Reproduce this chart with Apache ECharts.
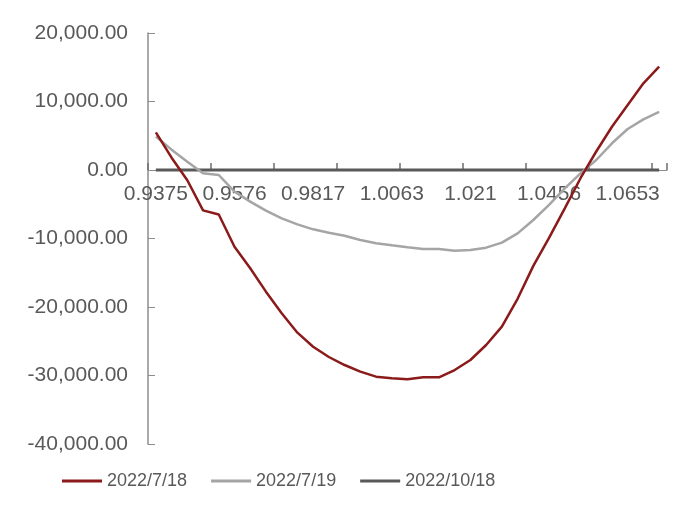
<!DOCTYPE html>
<html>
<head>
<meta charset="utf-8">
<script src="https://cdn.jsdelivr.net/npm/echarts@6/dist/echarts.min.js"></script>
<style>
  html, body { margin: 0; padding: 0; background: #fff; }
  #chart { width: 689px; height: 508px; }
</style>
</head>
<body>
<div id="chart"></div>
<script>
// 横轴分类（只显示每 5 个中的一个）
const categories = [
  '0.9375', '0.9415', '0.9455', '0.9496', '0.9536',
  '0.9576', '0.9624', '0.9672', '0.9721', '0.9769',
  '0.9817', '0.9866', '0.9915', '0.9965', '1.0014',
  '1.0063', '1.0092', '1.0122', '1.0151', '1.0181',
  '1.021', '1.0259', '1.0308', '1.0358', '1.0407',
  '1.0456', '1.0495', '1.0535', '1.0574', '1.0614',
  '1.0653', '1.0692', '1.0732'
]
const seriesNames = ['2022/7/18', '2022/7/19', '2022/10/18']
const values0718 = [
  5500, 1800, -1500, -5900, -6500,
  -11200, -14350, -17760, -20900, -23750,
  -25800, -27300, -28470, -29440, -30170,
  -30410, -30560, -30270, -30270, -29200,
  -27740, -25550, -22870, -18800, -14000,
  -9900, -5600, -1200, 2700, 6320,
  9490, 12650, 15100
]
const values0719 = [
  4900, 2970, 1210, -490, -730,
  -3160, -4620, -5940, -7060, -7930,
  -8660, -9150, -9590, -10220, -10700,
  -11000, -11290, -11530, -11530, -11780,
  -11680, -11340, -10610, -9250, -7300,
  -5100, -2680, -490, 1460, 3900,
  5990, 7400, 8500
]
const values1018 = [
  0, 0, 0, 0, 0, 0, 0, 0, 0, 0, 0,
  0, 0, 0, 0, 0, 0, 0, 0, 0, 0, 0,
  0, 0, 0, 0, 0, 0, 0, 0, 0, 0, 0
]
const yTicks = { min: -40000, max: 20000, interval: 10000 }
const myColor = ['#8B1A1A', '#A5A5A5', '#595959']

const chart = echarts.init(document.getElementById('chart'))
const textFont = 'Liberation Sans'

const option = {
  animation: false,
  color: myColor,
  grid: {
    left: 148,
    right: 22,
    top: 33,
    bottom: 64,
  },
  legend: {
    left: 57,
    top: 467,
    icon: 'rect',
    itemWidth: 40,
    itemHeight: 3,
    itemGap: 24,
    textStyle: {
      color: '#595959',
      fontSize: 18,
      fontFamily: textFont,
    },
    data: seriesNames,
  },
  xAxis: {
    type: 'category',
    data: categories,
    boundaryGap: true,
    // 坐标轴放在 0 的位置，偏移量在下面算
    offset: 0,
    axisLine: {
      onZero: false,
      lineStyle: { color: '#8c8c8c', width: 1 },
    },
    // 刻度每 4 个分类一个，朝上
    axisTick: {
      show: true,
      interval: 3,
      inside: true,
      length: 7,
      lineStyle: { color: '#6e6e6e', width: 1.5 },
    },
    axisLabel: {
      interval: 4,
      color: '#595959',
      fontSize: 21,
      fontFamily: textFont,
      margin: 14,
    },
    splitLine: { show: false },
  },
  yAxis: {
    type: 'value',
    min: yTicks.min,
    max: yTicks.max,
    interval: yTicks.interval,
    axisLine: {
      show: true,
      lineStyle: { color: '#8c8c8c', width: 1.5 },
    },
    axisTick: {
      show: true,
      inside: true,
      length: 7,
      lineStyle: { color: '#8c8c8c' },
    },
    axisLabel: {
      color: '#595959',
      fontSize: 21,
      fontFamily: textFont,
      margin: 20,
      formatter: function (v) {
        return v.toLocaleString('en-US', { minimumFractionDigits: 2, maximumFractionDigits: 2 })
      },
    },
    splitLine: { show: false },
  },
  series: [
    {
      name: seriesNames[0],
      type: 'line',
      data: values0718,
      showSymbol: false,
      z: 3,
      lineStyle: { width: 2.5, color: myColor[0] },
    },
    {
      name: seriesNames[1],
      type: 'line',
      data: values0719,
      showSymbol: false,
      z: 2,
      lineStyle: { width: 2.5, color: myColor[1] },
    },
    {
      name: seriesNames[2],
      type: 'line',
      data: values1018,
      showSymbol: false,
      z: 1,
      lineStyle: { width: 3, color: myColor[2] },
    },
  ],
}
chart.setOption(option)

// 把横轴整体（线、刻度、文字）移到 y=0 处
const zeroY = chart.convertToPixel({ yAxisIndex: 0 }, 0)
const bottomY = chart.convertToPixel({ yAxisIndex: 0 }, yTicks.min)
chart.setOption({ xAxis: { offset: zeroY - bottomY } })

window.addEventListener('resize', function () {
  chart.resize()
})
</script>
</body>
</html>
